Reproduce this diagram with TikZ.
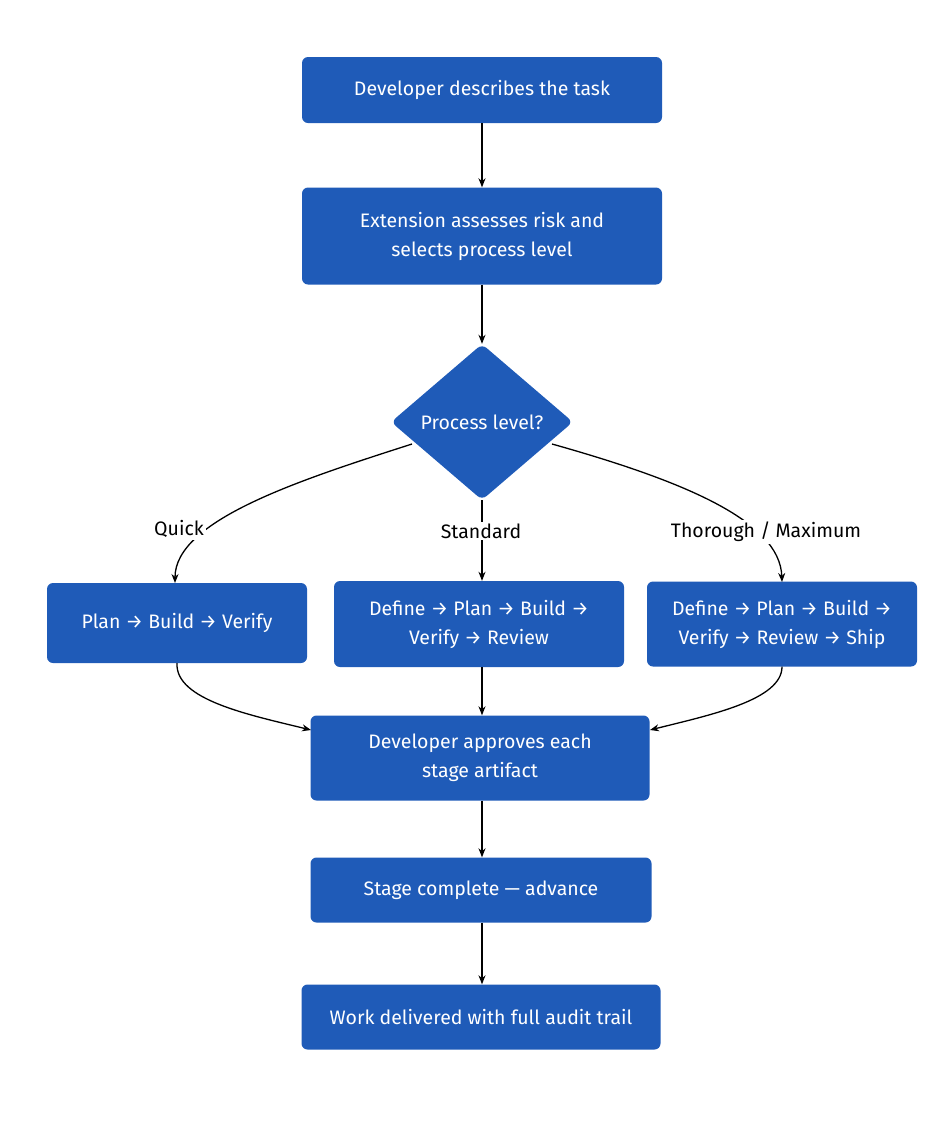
\documentclass[tikz,border=0pt]{standalone}
\usepackage{fontspec}
\setmainfont{Fira Sans}
\usetikzlibrary{shapes.geometric,arrows.meta}
\definecolor{bx}{HTML}{1F5BB8}
\begin{document}
\begin{tikzpicture}[x=1pt,y=-1pt,
  box/.style={fill=bx,draw=none,rounded corners=6pt,text=white,align=center,inner sep=0pt,font=\fontsize{19.5}{29}\selectfont},
  lab/.style={fill=white,inner sep=2pt,font=\fontsize{19.5}{24}\selectfont},
  arr/.style={-{Stealth[length=9pt,width=7pt]},line width=1.3pt,black}]
\useasboundingbox (0,0) rectangle (944,1122);
\node[box,minimum width=360pt,minimum height=66pt] (a) at (482,90) {Developer describes the task};
\node[box,minimum width=360pt,minimum height=97pt] (b) at (482,236) {Extension assesses risk and\\ selects process level};
\node[diamond,fill=bx,text=white,minimum width=182pt,minimum height=156pt,inner sep=0pt,font=\fontsize{19.5}{24}\selectfont,rounded corners=6pt] (d) at (482,422) {Process level?};
\node[box,minimum width=260pt,minimum height=80pt] (q) at (177,623) {Plan → Build → Verify};
\node[box,minimum width=290pt,minimum height=86pt] (s) at (479,624) {Define → Plan → Build →\\ Verify → Review};
\node[box,minimum width=270pt,minimum height=85pt] (t) at (782,624) {Define → Plan → Build →\\ Verify → Review → Ship};
\node[box,minimum width=339pt,minimum height=85pt] (p) at (480,758) {Developer approves each\\ stage artifact};
\node[box,minimum width=341pt,minimum height=65pt] (c) at (481,890) {Stage complete — advance};
\node[box,minimum width=359pt,minimum height=65pt] (w) at (481,1017) {Work delivered with full audit trail};
\draw[arr] (a) -- (b);
\draw[arr] (b) -- (d);
\coordinate (dl) at (412,444);
\coordinate (dr) at (552,444);
\draw[arr] (dl) .. controls (300,480) and (175,520) .. (175,583);
\node[lab] at (179,529) {Quick};
\draw[arr] (d.south) -- (d.south|-s.north);
\node[lab] at (481,531) {Standard};
\draw[arr] (dr) .. controls (680,480) and (780,520) .. (782,582);
\node[lab] at (766,532) {Thorough / Maximum};
\draw[arr] (q.south) .. controls (175,700) and (250,715) .. (311,730);
\draw[arr] (s.south-|d.south) -- (p.north-|d.south);
\draw[arr] (t.south) .. controls (782,700) and (710,715) .. (650,730);
\draw[arr] (p.south-|d.south) -- (c.north-|d.south);
\draw[arr] (c.south-|d.south) -- (w.north-|d.south);
\end{tikzpicture}
\end{document}
